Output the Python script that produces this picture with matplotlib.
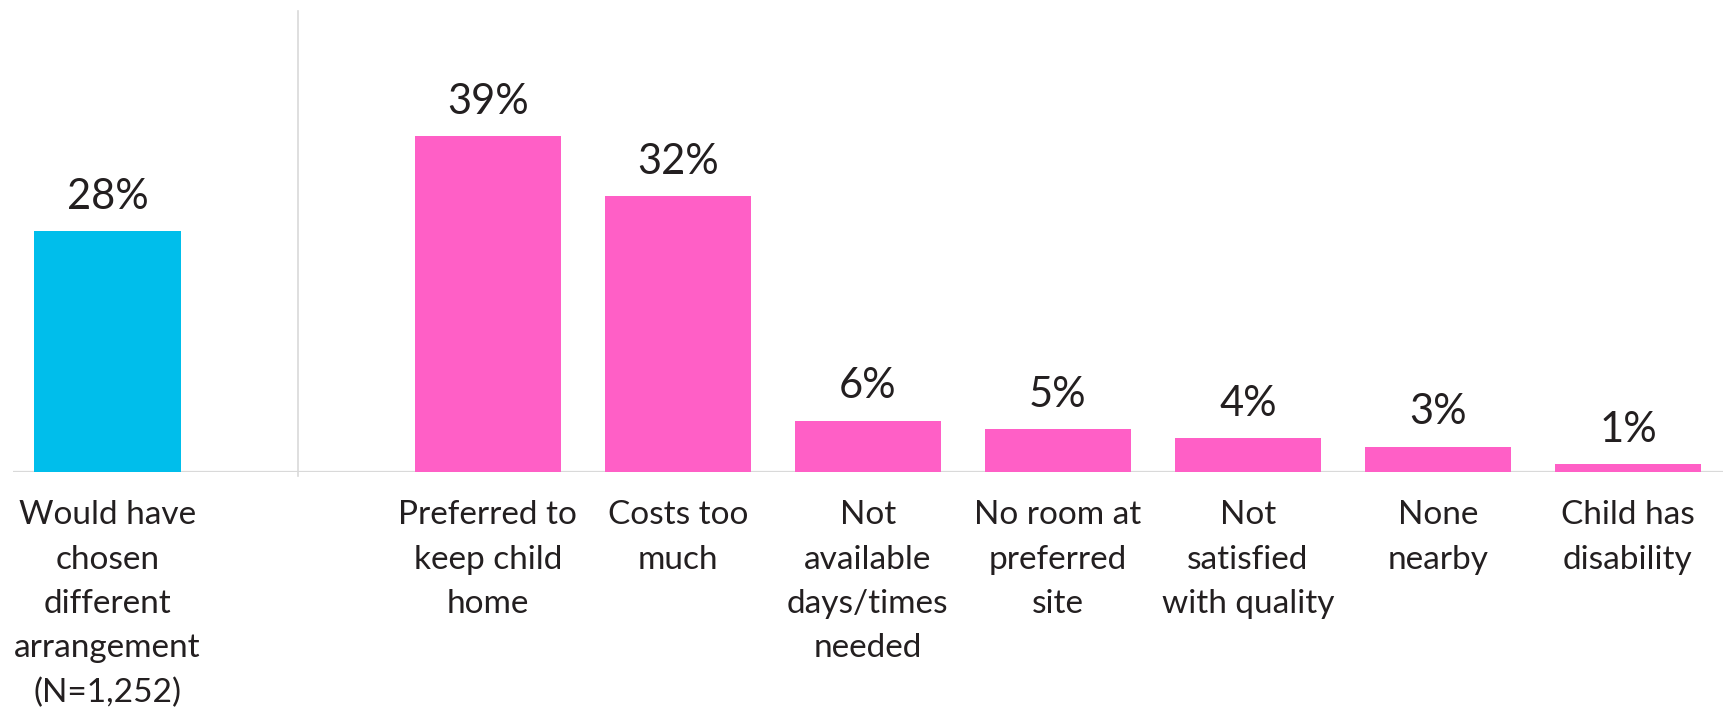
import matplotlib.pyplot as plt

# Survey data: overall share, then reasons
categories = [
    "Would have\nchosen\ndifferent\narrangement\n(N=1,252)",
    "Preferred to\nkeep child\nhome",
    "Costs too\nmuch",
    "Not\navailable\ndays/times\nneeded",
    "No room at\npreferred\nsite",
    "Not\nsatisfied\nwith quality",
    "None\nnearby",
    "Child has\ndisability",
]
values = [28, 39, 32, 6, 5, 4, 3, 1]
bar_colors = ["#00BEEB"] + ["#FF5FC6"] * 7

# leave an empty slot between the first bar and the reasons
positions = [0] + list(range(2, 2 + len(values) - 1))

plt.rcParams['font.family'] = ['Lato', 'DejaVu Sans']
text_color = "#231F20"
grey = "#D9D9D9"

fig = plt.figure(figsize=(17.23, 7.12), dpi=100)
ax = fig.add_axes([0.0073, 0.3364, 0.9927, 0.6482])

ax.bar(positions, values, width=0.77, color=bar_colors, zorder=2)

for x, v in zip(positions, values):
    ax.annotate(f"{v}%", (x, v), xytext=(0, 11), textcoords="offset points",
                ha="center", va="bottom", fontsize=30, color=text_color)

ax.set_xlim(-0.5, 8.5)
ax.set_ylim(0, 53.5)

# baseline and separator between the overall bar and the reasons
ax.axhline(0, color=grey, linewidth=1.6, zorder=1)
ax.axvline(1, ymin=-0.008, ymax=1, color=grey, linewidth=1.2, clip_on=False, zorder=1)

ax.set_xticks(positions)
ax.set_xticklabels(categories, fontsize=24, color=text_color, linespacing=1.6)
ax.tick_params(axis="x", length=0, pad=20)
ax.set_yticks([])
for s in ax.spines.values():
    s.set_visible(False)

fig.savefig("out.png", dpi=100)
